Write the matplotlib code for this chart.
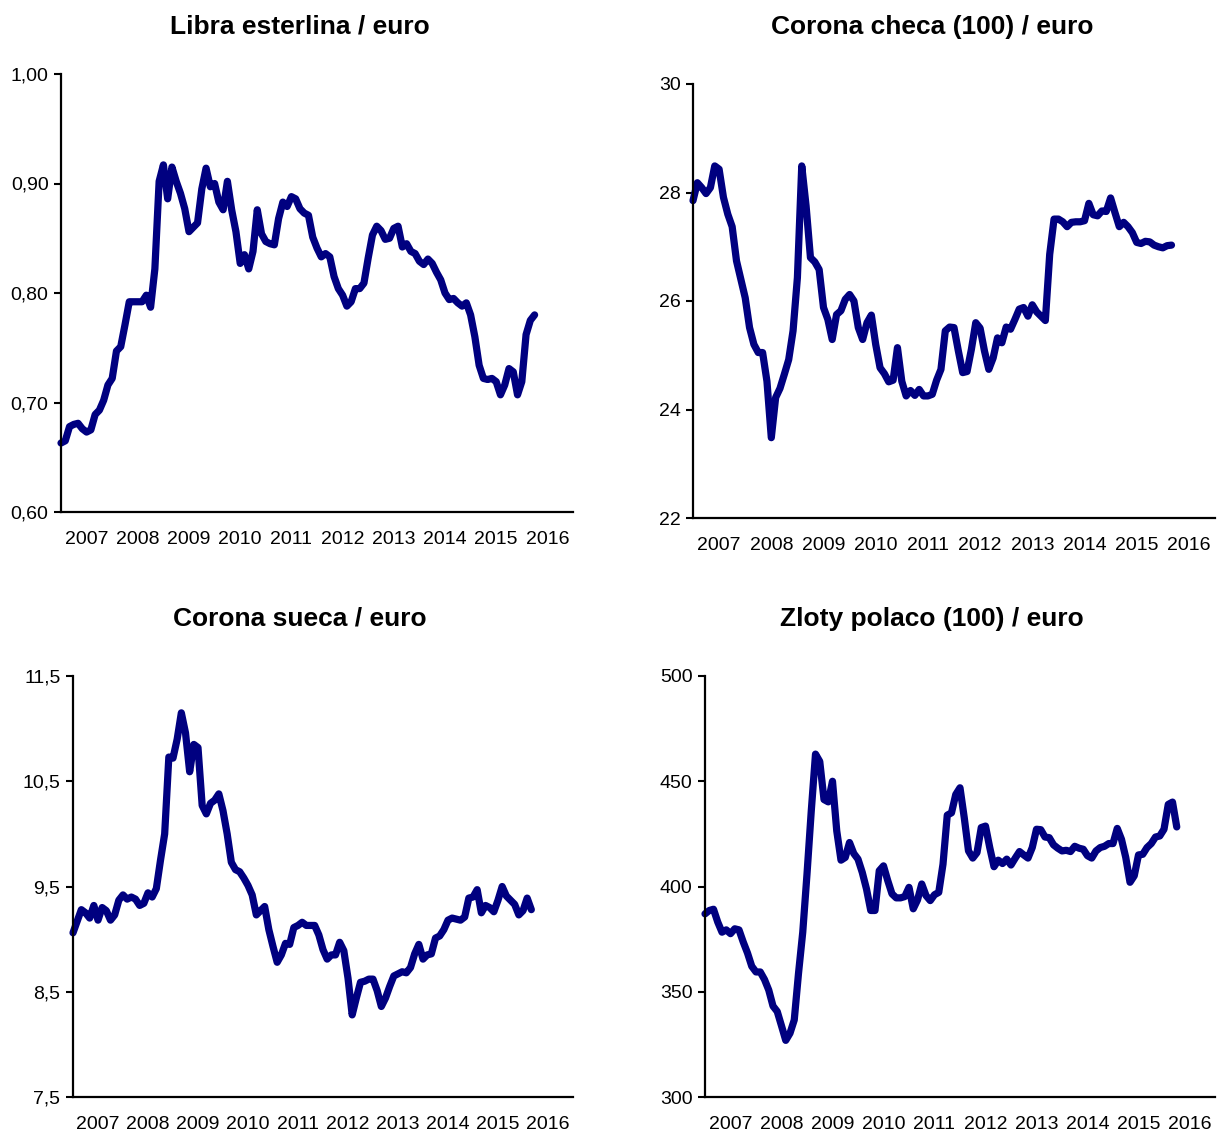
import matplotlib as mpl
mpl.use('Agg')
import matplotlib.pyplot as plt
import numpy as np

plt.rcParams['font.family'] = ['Liberation Sans', 'DejaVu Sans']

# monthly averages, first point = January 2007
libra = [0.663, 0.665, 0.678, 0.680, 0.681, 0.676, 0.673, 0.675, 0.689, 0.693,
         0.702, 0.716, 0.722, 0.747, 0.751, 0.771, 0.792, 0.792, 0.792, 0.792,
         0.798, 0.787, 0.822, 0.902, 0.917, 0.886, 0.915, 0.902, 0.891, 0.877,
         0.856, 0.860, 0.864, 0.895, 0.914, 0.897, 0.900, 0.883, 0.876, 0.902,
         0.876, 0.856, 0.827, 0.835, 0.822, 0.838, 0.876, 0.854, 0.847, 0.845,
         0.844, 0.868, 0.883, 0.879, 0.888, 0.886, 0.877, 0.873, 0.871, 0.851,
         0.841, 0.833, 0.836, 0.833, 0.815, 0.804, 0.798, 0.788, 0.792, 0.804,
         0.804, 0.809, 0.832, 0.853, 0.861, 0.857, 0.849, 0.850, 0.859, 0.861,
         0.842, 0.845, 0.838, 0.836, 0.829, 0.826, 0.831, 0.827, 0.819, 0.812,
         0.800, 0.794, 0.795, 0.791, 0.788, 0.791, 0.780, 0.760, 0.734, 0.722,
         0.721, 0.722, 0.719, 0.707, 0.716, 0.731, 0.728, 0.707, 0.719, 0.762,
         0.775, 0.780]

corona_checa = [27.85, 28.18, 28.09, 27.98, 28.09, 28.49, 28.43, 27.91, 27.60, 27.37,
                26.74, 26.40, 26.06, 25.51, 25.20, 25.05, 25.05, 24.52, 23.48, 24.22,
                24.39, 24.65, 24.92, 25.45, 26.43, 28.49, 27.75, 26.80, 26.72, 26.58,
                25.88, 25.66, 25.29, 25.75, 25.82, 26.03, 26.12, 26.00, 25.51, 25.29,
                25.60, 25.74, 25.20, 24.77, 24.66, 24.51, 24.54, 25.14, 24.52, 24.25,
                24.35, 24.26, 24.37, 24.25, 24.25, 24.28, 24.54, 24.74, 25.45, 25.52,
                25.51, 25.08, 24.68, 24.70, 25.11, 25.60, 25.50, 25.08, 24.74, 24.95,
                25.32, 25.23, 25.52, 25.48, 25.66, 25.85, 25.88, 25.72, 25.93, 25.80,
                25.72, 25.64, 26.86, 27.51, 27.51, 27.46, 27.37, 27.45, 27.46, 27.46,
                27.48, 27.80, 27.59, 27.57, 27.66, 27.65, 27.90, 27.63, 27.37, 27.45,
                27.37, 27.26, 27.08, 27.06, 27.10, 27.09, 27.03, 27.00, 26.98, 27.02,
                27.03]

corona_sueca = [9.06, 9.17, 9.28, 9.25, 9.20, 9.32, 9.18, 9.30, 9.27, 9.18,
                9.23, 9.37, 9.42, 9.38, 9.40, 9.38, 9.32, 9.34, 9.44, 9.40,
                9.48, 9.75, 10.00, 10.73, 10.72, 10.90, 11.15, 10.96, 10.59, 10.85,
                10.82, 10.27, 10.19, 10.29, 10.32, 10.38, 10.22, 10.00, 9.73, 9.66,
                9.64, 9.58, 9.51, 9.42, 9.23, 9.27, 9.31, 9.09, 8.93, 8.78,
                8.85, 8.96, 8.95, 9.11, 9.13, 9.16, 9.13, 9.13, 9.13, 9.04,
                8.90, 8.81, 8.85, 8.85, 8.97, 8.89, 8.63, 8.28, 8.44, 8.59,
                8.60, 8.62, 8.62, 8.51, 8.36, 8.44, 8.55, 8.65, 8.67, 8.69,
                8.68, 8.73, 8.86, 8.95, 8.81, 8.85, 8.86, 9.01, 9.03, 9.09,
                9.18, 9.20, 9.19, 9.18, 9.21, 9.39, 9.40, 9.47, 9.25, 9.32,
                9.30, 9.26, 9.37, 9.50, 9.41, 9.37, 9.33, 9.23, 9.27, 9.39,
                9.28]

zloty = [387.0, 388.6, 389.2, 383.1, 378.3, 379.4, 377.6, 379.9, 379.4, 373.6,
         368.4, 362.1, 359.4, 359.4, 355.8, 350.8, 343.2, 340.6, 333.8, 326.9,
         330.3, 336.6, 358.7, 378.3, 405.9, 435.8, 462.9, 459.4, 441.3, 440.2,
         450.0, 426.4, 412.5, 413.8, 420.9, 415.7, 413.0, 406.7, 398.8, 388.6,
         388.6, 407.5, 409.8, 402.8, 396.5, 394.6, 394.6, 395.2, 399.6, 389.4,
         393.6, 401.2, 395.7, 393.3, 396.1, 397.2, 410.6, 433.9, 435.0, 443.7,
         446.9, 432.7, 416.9, 413.5, 416.1, 428.0, 428.7, 418.5, 409.4, 412.5,
         410.9, 413.0, 410.2, 413.5, 416.6, 415.0, 413.5, 418.5, 427.2, 427.0,
         423.5, 423.2, 419.8, 418.2, 416.9, 417.2, 416.6, 419.1, 418.2, 417.7,
         414.6, 413.5, 416.9, 418.5, 419.1, 420.4, 420.4, 427.6, 422.4, 413.8,
         402.0, 405.1, 415.0, 415.3, 418.5, 420.4, 423.5, 424.0, 427.2, 439.0,
         440.1, 428.3]

years = ['2007', '2008', '2009', '2010', '2011', '2012', '2013', '2014', '2015', '2016']

titles = ['Libra esterlina / euro', 'Corona checa (100) / euro',
          'Corona sueca / euro', 'Zloty polaco (100) / euro']
yticks = [[0.60, 0.70, 0.80, 0.90, 1.00],
          [22, 24, 26, 28, 30],
          [7.5, 8.5, 9.5, 10.5, 11.5],
          [300, 350, 400, 450, 500]]
ylabels = [['0,60', '0,70', '0,80', '0,90', '1,00'],
           ['22', '24', '26', '28', '30'],
           ['7,5', '8,5', '9,5', '10,5', '11,5'],
           ['300', '350', '400', '450', '500']]
series = [libra, corona_checa, corona_sueca, zloty]

W, H = 1218.0, 1131.0
# axes boxes in pixels: left, top, right, bottom
boxes = [(61, 74, 573, 512),
         (693, 84, 1215, 518),
         (73, 676, 573, 1097),
         (705, 676, 1215, 1097)]
title_pos = [(300, 27), (932, 27), (300, 619), (932, 619)]

line_color = '#000080'

fig = plt.figure(figsize=(W / 100, H / 100), dpi=100)

for i in range(4):
    l, t, r, b = boxes[i]
    ax = fig.add_axes([l / W, 1 - b / H, (r - l) / W, (b - t) / H])
    vals = series[i]
    months = np.arange(len(vals))
    ax.plot(months, vals, color=line_color, lw=5.2,
            solid_joinstyle='round', solid_capstyle='round', clip_on=False)
    ax.set_xlim(0, 120)
    ax.set_ylim(yticks[i][0], yticks[i][-1])
    ax.set_yticks(yticks[i])
    ax.set_yticklabels(ylabels[i])
    ax.set_xticks(np.arange(len(years)) * 12 + 6)
    ax.set_xticklabels(years)
    ax.tick_params(axis='x', length=0, pad=14, labelsize=14)
    ax.tick_params(axis='y', direction='out', length=5, width=1.5, pad=4, labelsize=14)
    for side in ['top', 'right']:
        ax.spines[side].set_visible(False)
    for side in ['left', 'bottom']:
        ax.spines[side].set_linewidth(1.6)
    tx, ty = title_pos[i]
    fig.text(tx / W, 1 - ty / H, titles[i], ha='center', va='center',
             fontsize=19, fontweight='bold')

fig.savefig('out.png', dpi=100)
